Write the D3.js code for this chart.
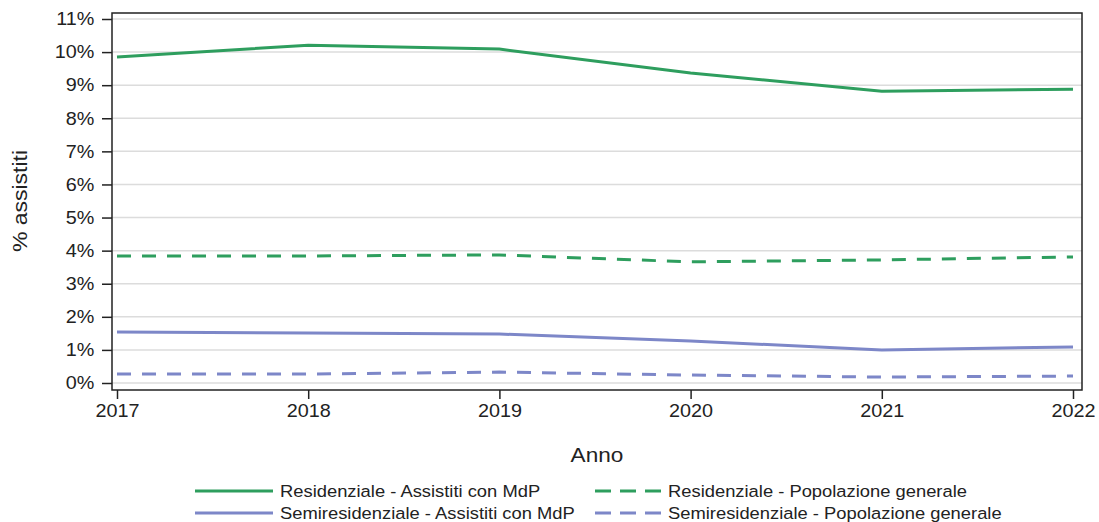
<!DOCTYPE html>
<html><head><meta charset="utf-8">
<script src="https://cdn.jsdelivr.net/npm/d3@7"></script>
<style>body{margin:0;background:#fff;} text{font-family:"Liberation Sans",Arial,sans-serif;fill:#222;}</style>
</head><body><svg id="c" width="1099" height="522"></svg>
<script>
const years = [2017, 2018, 2019, 2020, 2021, 2022];
const resMdP = [9.85, 10.21, 10.09, 9.37, 8.82, 8.88];
const resPop = [3.84, 3.84, 3.87, 3.66, 3.72, 3.81];
const semiMdP = [1.54, 1.51, 1.48, 1.27, 1.00, 1.09];
const semiPop = [0.27, 0.27, 0.33, 0.24, 0.18, 0.21];
const yTicks = [0,1,2,3,4,5,6,7,8,9,10,11];
const seriesNames = ["Residenziale - Assistiti con MdP","Residenziale - Popolazione generale","Semiresidenziale - Assistiti con MdP","Semiresidenziale - Popolazione generale"];

const green = "#2e9e5e", purple = "#7d87c8";
const series = [
  {name: seriesNames[0], values: resMdP, color: green, dash: null},
  {name: seriesNames[1], values: resPop, color: green, dash: "14,11"},
  {name: seriesNames[2], values: semiMdP, color: purple, dash: null},
  {name: seriesNames[3], values: semiPop, color: purple, dash: "14,11"}
];

const svg = d3.select("#c");
const frame = {l:112, r:1082, t:13, b:390};
const x = d3.scaleLinear().domain([2017,2022]).range([117,1073]);
const y = d3.scaleLinear().domain([0,11]).range([383,19]);
const SX = 1.1;

// gridlines
svg.append("g").selectAll("line").data(yTicks).join("line")
  .attr("x1",frame.l).attr("x2",frame.r).attr("y1",d=>y(d)).attr("y2",d=>y(d))
  .attr("stroke","#dcdcdc").attr("stroke-width",1.5);

// lines
const line = d3.line().x((d,i)=>x(years[i])).y(d=>y(d));
series.forEach(s=>{
  svg.append("path").datum(s.values).attr("d",line).attr("fill","none")
    .attr("stroke",s.color).attr("stroke-width",3).attr("stroke-dasharray",s.dash);
});

// frame
svg.append("rect").attr("x",frame.l).attr("y",frame.t).attr("width",frame.r-frame.l).attr("height",frame.b-frame.t)
  .attr("fill","none").attr("stroke","#222").attr("stroke-width",1.5);

// y axis
const yAxis = d3.axisLeft(y).tickValues(yTicks).tickFormat(d=>d+"%").tickSize(10).tickPadding(6);
const ga = svg.append("g").attr("transform",`translate(${frame.l},0)`).call(yAxis);
ga.select(".domain").remove();
ga.selectAll(".tick line").attr("stroke","#222").attr("stroke-width",1.5);
ga.selectAll("text").style("font-size","18px").attr("fill","#222").attr("transform",`scale(${SX},1)`);

// x axis
const xAxis = d3.axisBottom(x).tickValues(years).tickFormat(d3.format("d")).tickSize(9).tickPadding(5);
const gx = svg.append("g").attr("transform",`translate(0,${frame.b})`).call(xAxis);
gx.select(".domain").remove();
gx.selectAll(".tick line").attr("stroke","#222").attr("stroke-width",1.5);
gx.selectAll("text").style("font-size","18px").attr("fill","#222").attr("transform",`scale(${SX},1)`);

// axis titles
svg.append("text").attr("transform","translate(597,462) scale(1.13,1)").attr("text-anchor","middle").style("font-size","20px").text("Anno");
svg.append("text").attr("transform","translate(27,201) rotate(-90) scale(1.15,1)").attr("text-anchor","middle").style("font-size","20px").text("% assistiti");

// legend
const leg = [
  {s:series[0], lx:195, ly:491},
  {s:series[1], lx:595, ly:491},
  {s:series[2], lx:195, ly:513},
  {s:series[3], lx:595, ly:513}
];
leg.forEach(d=>{
  const w = d.s.dash ? 66 : 78;
  svg.append("line").attr("x1",d.lx).attr("x2",d.lx+w).attr("y1",d.ly).attr("y2",d.ly)
    .attr("stroke",d.s.color).attr("stroke-width",3).attr("stroke-dasharray",d.s.dash ? "16,9" : null);
  svg.append("text").attr("transform",`translate(${d.lx+w+7},${d.ly+6}) scale(1.08,1)`).style("font-size","17px").text(d.s.name);
});
</script></body></html>
